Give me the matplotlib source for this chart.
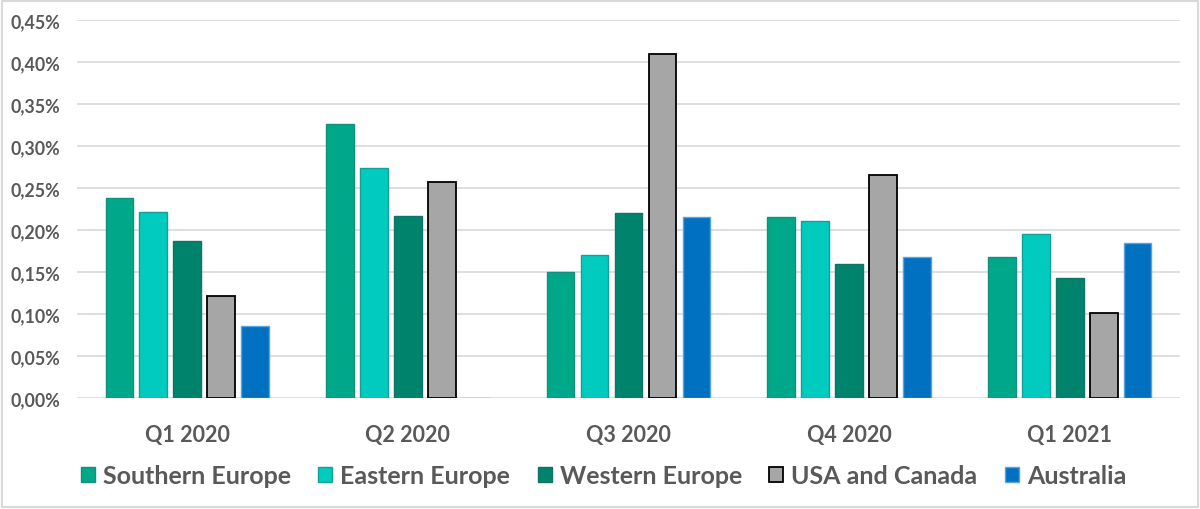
import matplotlib
matplotlib.use('Agg')
import matplotlib.pyplot as plt
from matplotlib.patches import Rectangle
from matplotlib.ticker import FuncFormatter
import numpy as np

quarters = ['Q1 2020', 'Q2 2020', 'Q3 2020', 'Q4 2020', 'Q1 2021']
southern_europe = [0.238, 0.326, 0.150, 0.216, 0.168]
eastern_europe = [0.222, 0.274, 0.170, 0.211, 0.195]
western_europe = [0.187, 0.217, 0.220, 0.160, 0.143]
usa_canada = [0.121, 0.257, 0.410, 0.265, 0.101]
australia = [0.086, 0.0, 0.215, 0.168, 0.185]

series = [
    ('Southern Europe', southern_europe, '#00A88A', '#12907A'),
    ('Eastern Europe', eastern_europe, '#00CBBE', '#14A096'),
    ('Western Europe', western_europe, '#00836D', '#0F7563'),
    ('USA and Canada', usa_canada, '#A6A6A6', '#000000'),
    ('Australia', australia, '#0070C0', '#5BA3E0'),
]

plt.rcParams['font.family'] = ['Lato', 'DejaVu Sans']
txt = '#595959'

fig = plt.figure(figsize=(12, 5.1), dpi=100)
ax = fig.add_axes([77 / 1200, 1 - 399 / 510, 1103 / 1200, 378 / 510])

x = np.arange(len(quarters))
slot = 0.154
width = 0.1255
for i, (name, vals, fc, ec) in enumerate(series):
    lw = 1.3 if name == 'USA and Canada' else 1.0
    ax.bar(x + (i - 2) * slot, vals, width, color=fc, edgecolor=ec,
           linewidth=lw, label=name, zorder=3)

ax.set_xlim(-0.5, len(quarters) - 0.5)
ax.set_ylim(0, 0.45)
ax.set_yticks(np.arange(0, 0.451, 0.05))
ax.yaxis.set_major_formatter(FuncFormatter(lambda v, p: f'{v:.2f}%'.replace('.', ',')))
ax.set_xticks(x)
ax.set_xticklabels(quarters)
ax.grid(axis='y', color='#D9D9D9', linewidth=1.2, zorder=0)
for s in ax.spines.values():
    s.set_visible(False)
ax.tick_params(axis='both', length=0, colors=txt)
ax.tick_params(axis='y', pad=12, labelsize=12.8)
ax.tick_params(axis='x', pad=19, labelsize=15.5)
for lab in ax.get_xticklabels() + ax.get_yticklabels():
    lab.set_fontweight('bold')
    lab.set_color(txt)

leg = fig.legend(loc='center', bbox_to_anchor=(0.503, 1 - 477 / 510), ncol=5,
                 frameon=False, fontsize=18, handlelength=0.56, handleheight=0.56,
                 handletextpad=0.32, columnspacing=1.1)
for t in leg.get_texts():
    t.set_fontweight('bold')
    t.set_color(txt)

fig.patches.append(Rectangle((0.002, 0.003), 0.996, 0.994, transform=fig.transFigure,
                             fill=False, edgecolor='#D9D9D9', linewidth=1.5))

fig.savefig('out.png', dpi=100)
